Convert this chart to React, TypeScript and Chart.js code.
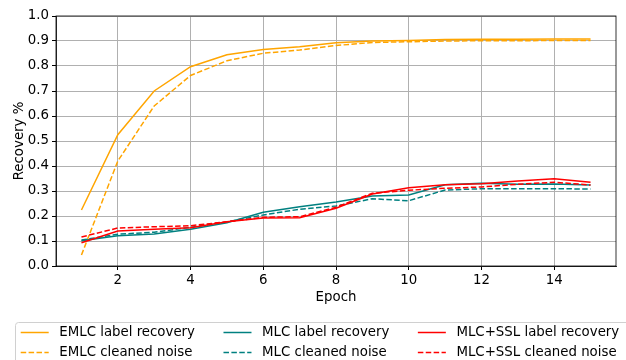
import React, { useEffect, useRef } from "react";
import { Chart, registerables } from "chart.js";
Chart.register(...registerables);

const epochs = [1, 2, 3, 4, 5, 6, 7, 8, 9, 10, 11, 12, 13, 14, 15];
const emlcLabel = [0.224, 0.525, 0.70, 0.797, 0.845, 0.866, 0.877, 0.893, 0.90, 0.902, 0.906, 0.907, 0.907, 0.908, 0.908];
const emlcCleaned = [0.044, 0.42, 0.64, 0.762, 0.821, 0.851, 0.864, 0.882, 0.894, 0.897, 0.900, 0.901, 0.901, 0.902, 0.902];
const mlcLabel = [0.101, 0.121, 0.128, 0.147, 0.173, 0.215, 0.237, 0.256, 0.280, 0.284, 0.325, 0.331, 0.327, 0.328, 0.324];
const mlcCleaned = [0.104, 0.127, 0.135, 0.155, 0.176, 0.204, 0.227, 0.240, 0.269, 0.261, 0.304, 0.309, 0.309, 0.309, 0.308];
const sslLabel = [0.093, 0.140, 0.147, 0.153, 0.177, 0.192, 0.193, 0.231, 0.288, 0.313, 0.325, 0.329, 0.340, 0.349, 0.335];
const sslCleaned = [0.116, 0.152, 0.157, 0.161, 0.177, 0.195, 0.197, 0.235, 0.291, 0.303, 0.311, 0.316, 0.327, 0.335, 0.324];
const seriesNames = [
  "EMLC label recovery",
  "EMLC cleaned noise",
  "MLC label recovery",
  "MLC cleaned noise",
  "MLC+SSL label recovery",
  "MLC+SSL cleaned noise",
];
const xTicks = [2, 4, 6, 8, 10, 12, 14];
const yTicks = [0, 0.1, 0.2, 0.3, 0.4, 0.5, 0.6, 0.7, 0.8, 0.9, 1.0];

const FONT = "'DejaVu Sans', sans-serif";
const FS = 13.33;
const ORANGE = "#FFA500";
const TEAL = "#008080";
const RED = "#FF0000";
const DASH = [5.5, 2.4];

const framePlugin = {
  id: "frame",
  afterDatasetsDraw(chart: any) {
    const { ctx, chartArea } = chart;
    ctx.save();
    ctx.strokeStyle = "#000";
    ctx.lineWidth = 0.8;
    ctx.strokeRect(chartArea.left, chartArea.top, chartArea.right - chartArea.left, chartArea.bottom - chartArea.top);
    ctx.restore();
  },
};

const legendPlugin = {
  id: "customLegend",
  afterDraw(chart: any) {
    const ctx = chart.ctx;
    ctx.save();
    ctx.fillStyle = "rgba(255,255,255,0.8)";
    ctx.strokeStyle = "#d0d0d0";
    ctx.lineWidth = 1;
    const bx = 15.5, by = 322.5, bw = 620, bh = 45, r = 3;
    ctx.beginPath();
    ctx.moveTo(bx + r, by);
    ctx.lineTo(bx + bw - r, by);
    ctx.quadraticCurveTo(bx + bw, by, bx + bw, by + r);
    ctx.lineTo(bx + bw, by + bh - r);
    ctx.quadraticCurveTo(bx + bw, by + bh, bx + bw - r, by + bh);
    ctx.lineTo(bx + r, by + bh);
    ctx.quadraticCurveTo(bx, by + bh, bx, by + bh - r);
    ctx.lineTo(bx, by + r);
    ctx.quadraticCurveTo(bx, by, bx + r, by);
    ctx.closePath();
    ctx.fill();
    ctx.stroke();

    ctx.font = FS + "px " + FONT;
    ctx.textBaseline = "middle";
    const datasets = chart.data.datasets;
    const rowsY = [332.5, 352.5];
    let colX = 20.7;
    for (let c = 0; c < 3; c++) {
      let maxW = 0;
      for (let rr = 0; rr < 2; rr++) {
        const ds = datasets[c * 2 + rr];
        const y = rowsY[rr];
        ctx.strokeStyle = ds.borderColor;
        ctx.lineWidth = 1.5;
        ctx.setLineDash(ds.borderDash || []);
        ctx.beginPath();
        ctx.moveTo(colX, y);
        ctx.lineTo(colX + 28, y);
        ctx.stroke();
        ctx.setLineDash([]);
        ctx.fillStyle = "#000";
        ctx.textAlign = "left";
        ctx.fillText(ds.label, colX + 38.6, y);
        maxW = Math.max(maxW, ctx.measureText(ds.label).width);
      }
      colX = colX + 38.6 + maxW + 28.5;
    }
    ctx.restore();
  },
};

export default function App() {
  const ref = useRef<HTMLCanvasElement>(null);
  useEffect(() => {
    document.body.style.margin = "0";
    const mk = (vals: number[]) => epochs.map((e, i) => ({ x: e, y: vals[i] }));
    const colors = [ORANGE, ORANGE, TEAL, TEAL, RED, RED];
    const values = [emlcLabel, emlcCleaned, mlcLabel, mlcCleaned, sslLabel, sslCleaned];
    const datasets = values.map((v, i) => ({
      label: seriesNames[i],
      data: mk(v),
      borderColor: colors[i],
      backgroundColor: colors[i],
      borderWidth: 1.5,
      borderDash: i % 2 === 1 ? DASH : [],
      pointRadius: 0,
      fill: false,
      tension: 0,
      order: 6 - i,
    }));
    const chart = new Chart(ref.current!, {
      type: "line",
      data: { datasets },
      plugins: [framePlugin, legendPlugin],
      options: {
        animation: false,
        responsive: false,
        devicePixelRatio: 1,
        layout: { padding: { left: 0, top: 16, right: 10, bottom: 54 } },
        plugins: { legend: { display: false }, tooltip: { enabled: false } },
        scales: {
          x: {
            type: "linear",
            min: 0.3,
            max: 15.7,
            afterBuildTicks: (s: any) => {
              s.ticks = xTicks.map((v) => ({ value: v }));
            },
            afterFit: (s: any) => {
              s.height = 40;
            },
            grid: { color: "#b0b0b0", lineWidth: 1, tickLength: 4, tickColor: "#000", drawOnChartArea: true },
            border: { color: "#000", width: 0.8 },
            ticks: { color: "#000", font: { family: FONT, size: FS }, padding: 3, maxRotation: 0 },
            title: { display: true, text: "Epoch", color: "#000", font: { family: FONT, size: FS }, padding: { top: 4, bottom: 0 } },
          },
          y: {
            type: "linear",
            min: 0,
            max: 1,
            afterBuildTicks: (s: any) => {
              s.ticks = yTicks.map((v) => ({ value: v }));
            },
            afterFit: (s: any) => {
              s.width = 56;
            },
            grid: { color: "#b0b0b0", lineWidth: 1, tickLength: 4, tickColor: "#000" },
            border: { color: "#000", width: 0.8 },
            ticks: {
              color: "#000",
              font: { family: FONT, size: FS },
              padding: 3,
              callback: (v: any) => Number(v).toFixed(1),
            },
            title: { display: true, text: "Recovery %", color: "#000", font: { family: FONT, size: FS }, padding: { top: 12, bottom: 4 } },
          },
        },
      } as any,
    });
    return () => chart.destroy();
  }, []);
  return <canvas ref={ref} width={626} height={360} style={{ display: "block" }} />;
}
